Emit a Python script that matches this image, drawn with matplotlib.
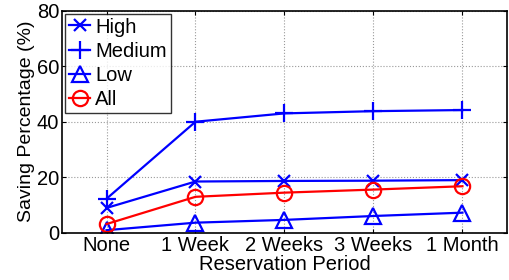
import matplotlib as mp
import matplotlib.pyplot as plt

periods = ['None', '1 Week', '2 Weeks', '3 Weeks', '1 Month']
high = [9.0, 18.5, 18.7, 18.8, 19.0]
medium = [12.3, 40.0, 43.0, 43.8, 44.2]
low = [1.0, 3.7, 4.7, 6.1, 7.3]
all_ = [3.2, 13.0, 14.5, 15.6, 16.8]

mp.rcParams['font.family'] = ['Liberation Sans', 'DejaVu Sans']

fig, ax = plt.subplots(figsize=(5.1, 2.8), dpi=100)
fig.subplots_adjust(left=0.1216, right=0.994, top=0.9625, bottom=0.168)

x = range(1, len(periods) + 1)
ax.plot(x, high, color='blue', marker='x', markersize=9, mew=1.6, lw=1.6, label='High')
ax.plot(x, medium, color='blue', marker='+', markersize=13, mew=1.6, lw=1.6, label='Medium')
ax.plot(x, low, color='blue', marker='^', markersize=11, mfc='none', mew=1.6, lw=1.6, label='Low')
ax.plot(x, all_, color='red', marker='o', markersize=11, mfc='none', mew=1.6, lw=1.6, label='All')

ax.set_xlim(0.5, 5.5)
ax.set_ylim(0, 80)
ax.set_yticks([0, 20, 40, 60, 80])
ax.set_xticks(list(x))
ax.set_xticklabels(periods)
ax.tick_params(labelsize=14.5, direction='in', length=3, top=True, right=True, pad=2)
ax.set_xlabel('Reservation Period', fontsize=14.5, labelpad=0)
ax.set_ylabel('Saving Percentage (%)', fontsize=14, labelpad=1)
ax.grid(True, linestyle=':', color='#999999', linewidth=0.8)
for s in ax.spines.values():
    s.set_linewidth(1.2)

leg = ax.legend(loc='upper left', fontsize=14.5, fancybox=False, edgecolor='black',
                borderaxespad=0.15, handlelength=1.05, handletextpad=0.25,
                labelspacing=0.25, borderpad=0.2)
leg.get_frame().set_linewidth(1.0)

plt.savefig('out.png', dpi=100)
